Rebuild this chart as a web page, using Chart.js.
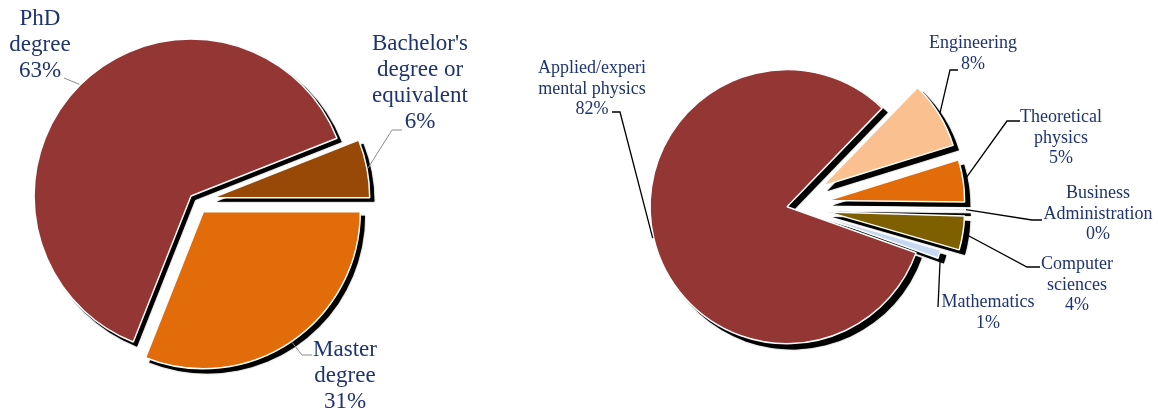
<!DOCTYPE html>
<html>
<head>
<meta charset="utf-8">
<script src="https://cdn.jsdelivr.net/npm/chart.js@4.4.1/dist/chart.umd.min.js"></script>
<style>
  html, body { margin: 0; padding: 0; background: #fff; }
  #wrap { position: relative; width: 1158px; height: 412px; overflow: hidden; }
  canvas { position: absolute; top: 0; }
  #degree-chart { left: 0; }
  #field-chart { left: 470px; }
</style>
</head>
<body>
<div id="wrap">
  <canvas id="degree-chart" width="580" height="412"></canvas>
  <canvas id="field-chart" width="688" height="412"></canvas>
</div>
<script>
// left pie - highest degree (clockwise from 3 o'clock)
const degreeLabels = [['Master', 'degree'], ['PhD', 'degree'], ["Bachelor's", 'degree or', 'equivalent']];
const degreeValues = [31, 63, 6];

// right pie - field of study (clockwise from upper right)
const fieldLabels = [
    ['Engineering'],
    ['Theoretical', 'physics'],
    ['Business', 'Administration'],
    ['Computer', 'sciences'],
    ['Mathematics'],
    ['Applied/experi', 'mental physics']
];
const fieldValues = [8, 5, 0.3, 4, 1, 82];

const TEXT_COLOR = '#1f3370';
const FONT = "'Liberation Serif', 'Times New Roman', serif";

// pull slices out of the pie along their middle angle
const explodePlugin = {
    id: 'explode',
    afterDatasetUpdate(chart, args, opts) {
        const meta = chart.getDatasetMeta(args.index);
        meta.data.forEach((arc, i) => {
            const d = opts.offsets[i] || 0;
            const mid = (arc.startAngle + arc.endAngle) / 2;
            arc.x += Math.cos(mid) * d;
            arc.y += Math.sin(mid) * d;
        });
    }
};

// hard black drop shadow: a dark copy of every slice, drawn first
const shadowPlugin = {
    id: 'dropShadow',
    beforeDatasetsDraw(chart, args, opts) {
        const ctx = chart.ctx;
        const meta = chart.getDatasetMeta(0);
        ctx.save();
        ctx.fillStyle = '#000';
        ctx.shadowColor = 'rgba(0,0,0,0.6)';
        ctx.shadowBlur = 1.5;
        meta.data.forEach(arc => {
            const x = arc.x + opts.offset;
            const y = arc.y + opts.offset;
            ctx.beginPath();
            ctx.moveTo(x, y);
            ctx.arc(x, y, arc.outerRadius + 0.75, arc.startAngle, arc.endAngle);
            ctx.closePath();
            ctx.fill();
        });
        ctx.restore();
    }
};

// data labels with leader lines
const calloutPlugin = {
    id: 'callouts',
    afterDraw(chart, args, opts) {
        const ctx = chart.ctx;
        const meta = chart.getDatasetMeta(0);
        const values = chart.data.datasets[0].data;
        const left = opts.canvasLeft;
        ctx.save();
        meta.data.forEach((arc, i) => {
            const spot = opts.spots[i];
            const mid = (arc.startAngle + arc.endAngle) / 2;
            const r = arc.outerRadius + 1;
            const pts = [[arc.x + Math.cos(mid) * r, arc.y + Math.sin(mid) * r]]
                .concat(spot.line.map(p => [p[0] - left, p[1]]));
            ctx.beginPath();
            ctx.moveTo(pts[0][0], pts[0][1]);
            pts.slice(1).forEach(p => ctx.lineTo(p[0], p[1]));
            ctx.strokeStyle = opts.lineColor;
            ctx.lineWidth = opts.lineWidth;
            ctx.stroke();

            const lines = chart.data.labels[i].concat([Math.round(values[i]) + '%']);
            ctx.fillStyle = TEXT_COLOR;
            ctx.font = opts.fontSize + 'px ' + FONT;
            ctx.textAlign = 'center';
            ctx.textBaseline = 'alphabetic';
            lines.forEach((t, k) => ctx.fillText(t, spot.x - left, spot.y + k * opts.lineHeight));
        });
        ctx.restore();
    }
};

function pieOptions(rotation, padding, extra) {
    return {
        responsive: false,
        animation: false,
        events: [],
        devicePixelRatio: 1,
        rotation: rotation,
        layout: { padding: padding },
        plugins: Object.assign({
            legend: { display: false },
            tooltip: { enabled: false }
        }, extra)
    };
}

new Chart(document.getElementById('degree-chart'), {
    type: 'pie',
    data: {
        labels: degreeLabels,
        datasets: [{
            data: degreeValues,
            backgroundColor: ['#e36c0a', '#943634', '#984807'],
            borderColor: '#ffffff',
            borderWidth: 1.5,
            radius: 157
        }]
    },
    options: pieOptions(90, { left: 0, right: 188, top: 0, bottom: 10 }, {
        explode: { offsets: [13, 7, 17] },
        dropShadow: { offset: 4 },
        callouts: {
            canvasLeft: 0,
            fontSize: 23,
            lineHeight: 26,
            lineColor: '#8c8c8c',
            lineWidth: 1,
            spots: [
                { x: 345, y: 356, line: [[302, 355], [312, 355]] },
                { x: 40, y: 25, line: [[64, 78]] },
                { x: 420, y: 50, line: [[392, 130], [402, 130]] }
            ]
        }
    }),
    plugins: [explodePlugin, shadowPlugin, calloutPlugin]
});

new Chart(document.getElementById('field-chart'), {
    type: 'pie',
    data: {
        labels: fieldLabels,
        datasets: [{
            data: fieldValues,
            backgroundColor: ['#fac090', '#e36c0a', '#dbe5f1', '#7f6000', '#c6d9f1', '#943634'],
            borderColor: '#ffffff',
            borderWidth: 1.5,
            radius: 137
        }]
    },
    options: pieOptions(44, { left: 0, right: 48, top: 0, bottom: 0 }, {
        explode: { offsets: [38, 38, 38, 38, 20, 3] },
        dropShadow: { offset: 5 },
        callouts: {
            canvasLeft: 470,
            fontSize: 18,
            lineHeight: 20.5,
            lineColor: '#000000',
            lineWidth: 1.3,
            spots: [
                { x: 973, y: 48, line: [[950, 70], [958, 70]] },
                { x: 1061, y: 122, line: [[1007, 121], [1020, 121]] },
                { x: 1098, y: 198, line: [[1032, 220], [1042, 220]] },
                { x: 1077, y: 269, line: [[1027, 267], [1040, 267]] },
                { x: 988, y: 307, line: [[938, 307]] },
                { x: 592, y: 73, line: [[620, 112], [612, 112]] }
            ]
        }
    }),
    plugins: [explodePlugin, shadowPlugin, calloutPlugin]
});
</script>
</body>
</html>
